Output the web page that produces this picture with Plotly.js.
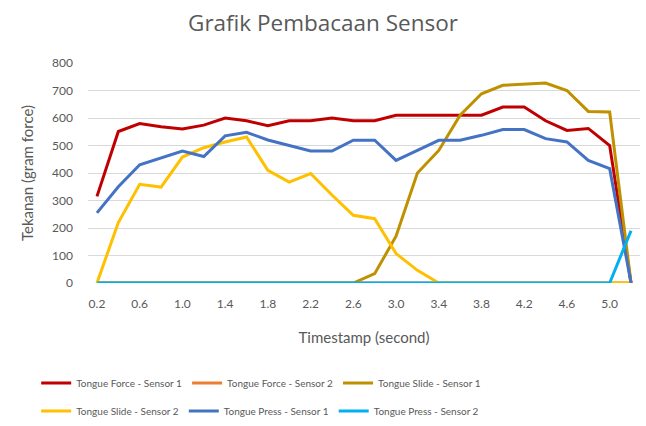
<!DOCTYPE html>
<html><head><meta charset="utf-8">
<script src="https://cdn.plot.ly/plotly-3.0.1.min.js"></script>
<style>html,body{margin:0;padding:0;background:#fff}#c{width:646px;height:426px}</style>
</head><body><div id="c"></div>
<script>
const timestamps = [0.2,0.4,0.6,0.8,1.0,1.2,1.4,1.6,1.8,2.0,2.2,2.4,2.6,2.8,3.0,3.2,3.4,3.6,3.8,4.0,4.2,4.4,4.6,4.8,5.0,5.2];
const forceSensor1 = [315,551,580,568,560,574,600,590,572,590,590,600,590,590,610,610,610,610,610,640,640,590,555,562,500,0];
const forceSensor2 = [0,0,0,0,0,0,0,0,0,0,0,0,0,0,0,0,0,0,0,0,0,0,0,0,0,0];
const slideSensor1 = [0,0,0,0,0,0,0,0,0,0,0,0,0,34,170,400,482,610,688,719,722,727,700,624,622,0];
const slideSensor2 = [0,220,359,349,458,492,513,531,410,367,398,320,246,234,107,46,0,0,0,0,0,0,0,0,0,0];
const pressSensor1 = [255,350,430,455,480,460,535,548,520,500,480,480,519,519,446,482,519,519,537,558,558,525,513,446,416,0];
const pressSensor2 = [0,0,0,0,0,0,0,0,0,0,0,0,0,0,0,0,0,0,0,0,0,0,0,0,0,190];
const tickVals = [0.2,0.6,1.0,1.4,1.8,2.2,2.6,3.0,3.4,3.8,4.2,4.6,5.0];
const tickText = ["0.2","0.6","1.0","1.4","1.8","2.2","2.6","3.0","3.4","3.8","4.2","4.6","5.0"];

const series = [
  {name:'Tongue Force - Sensor 1', y:forceSensor1, color:'#C00000', legend:'legend'},
  {name:'Tongue Force - Sensor 2', y:forceSensor2, color:'#ED7D31', legend:'legend'},
  {name:'Tongue Slide - Sensor 1', y:slideSensor1, color:'#BF9000', legend:'legend'},
  {name:'Tongue Slide - Sensor 2', y:slideSensor2, color:'#FFC000', legend:'legend2'},
  {name:'Tongue Press - Sensor 1', y:pressSensor1, color:'#4472C4', legend:'legend2'},
  {name:'Tongue Press - Sensor 2', y:pressSensor2, color:'#00B0F0', legend:'legend2'}
];
const traces = series.map(s => ({
  type:'scatter', mode:'lines', x:timestamps, y:s.y, name:s.name, legend:s.legend,
  line:{color:s.color, width:3}, hoverinfo:'skip'
}));
const legFont = {family:'Lato, sans-serif', size:10, color:'#595959'};
const legBase = {orientation:'h', xref:'container', yref:'container', x:0.056, xanchor:'left', yanchor:'middle',
  font:legFont, bgcolor:'rgba(0,0,0,0)', itemwidth:30, traceorder:'normal'};
const layout = {
  width:646, height:426,
  margin:{l:88, r:6, t:63, b:143},
  paper_bgcolor:'#fff', plot_bgcolor:'#fff',
  font:{family:'Lato, sans-serif', color:'#595959'},
  title:{text:'Grafik Pembacaan Sensor', font:{family:'Open Sans, sans-serif', size:22.5, color:'#595959'}, x:0.5, xref:'container', y:0.945, yanchor:'middle'},
  xaxis:{range:[0.116,5.284], tickvals:tickVals, ticktext:tickText, showgrid:false, zeroline:false,
    showline:false, ticks:'', tickfont:{size:12, color:'#595959'}, ticklabelstandoff:12,
    title:{text:'Timestamp (second)', font:{size:15, color:'#595959'}, standoff:22}},
  yaxis:{range:[0,800], dtick:100, gridcolor:'#D9D9D9', gridwidth:1, zeroline:false, showline:false, ticks:'',
    tickfont:{size:12, color:'#595959'}, ticklabelstandoff:14,
    title:{text:'Tekanan (gram force)', font:{size:15, color:'#595959'}, standoff:14}},
  legend:Object.assign({}, legBase, {y:0.101}),
  legend2:Object.assign({}, legBase, {y:0.035}),
  showlegend:true
};
Plotly.newPlot('c', traces, layout, {displayModeBar:false, staticPlot:true});
</script></body></html>
